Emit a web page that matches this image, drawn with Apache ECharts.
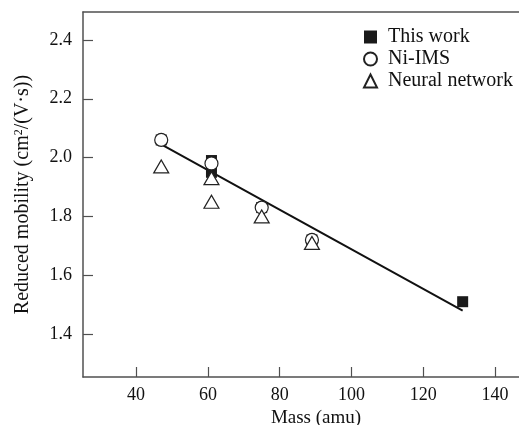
<!DOCTYPE html>
<html>
<head>
<meta charset="utf-8">
<script src="https://cdn.jsdelivr.net/npm/echarts@6/dist/echarts.min.js"></script>
<style>
  html, body { margin: 0; padding: 0; background: #fff; }
  #chart { width: 519px; height: 425px; }
</style>
</head>
<body>
<div id="chart"></div>
<script>
// values
let workMass = [47, 61, 61, 75, 89, 131]
let workMob = [2.06, 1.99, 1.95, 1.83, 1.72, 1.51]
let imsMass = [47, 61, 75, 89]
let imsMob = [2.06, 1.98, 1.83, 1.72]
let nnMass = [47, 61, 61, 75, 89]
let nnMob = [1.97, 1.93, 1.85, 1.80, 1.71]
let fitMass = [47, 131]
let fitMob = [2.045, 1.48]
let xTicks = [40, 60, 80, 100, 120, 140]
let yTicks = [1.4, 1.6, 1.8, 2.0, 2.2, 2.4]

function pairs (xs, ys) {
  return xs.map((x, i) => [x, ys[i]])
}

let font = 'Liberation Serif'
let axisColor = '#505050'
let textColor = '#111'
let myChart = echarts.init(document.getElementById('chart'))
myChart.setOption({
  animation: false,
  grid: {
    show: false,
    left: 83,
    top: 12,
    bottom: 48,
    right: 0,
    outerBoundsMode: 'none'
  },
  legend: {
    orient: 'vertical',
    left: 358,
    top: 22,
    itemGap: 2,
    itemWidth: 13,
    itemHeight: 13,
    textStyle: {
      fontFamily: font,
      fontSize: 20,
      color: textColor,
      padding: [0, 0, 0, 6]
    },
    data: ['This work', 'Ni-IMS', 'Neural network']
  },
  xAxis: [
    {
      type: 'value',
      min: 25.2,
      max: 146.7,
      splitLine: {show: false},
      name: 'Mass (amu)',
      nameLocation: 'middle',
      nameGap: 27,
      nameTextStyle: {
        fontFamily: font,
        fontSize: 19,
        color: textColor,
        padding: [0, 0, 0, 30]
      },
      axisLine: {lineStyle: {color: axisColor, width: 1.5}},
      axisTick: {
        inside: true,
        length: 10,
        lineStyle: {color: axisColor, width: 1.2},
        customValues: xTicks
      },
      axisLabel: {
        fontFamily: font,
        fontSize: 18,
        color: textColor,
        margin: 9,
        customValues: xTicks
      }
    },
    {
      // top frame line only
      type: 'value',
      position: 'top',
      min: 25.2,
      max: 146.7,
      splitLine: {show: false},
      axisLine: {lineStyle: {color: axisColor, width: 1.5}},
      axisTick: {show: false},
      axisLabel: {show: false}
    }
  ],
  yAxis: {
    type: 'value',
    min: 1.254,
    max: 2.495,
    splitLine: {show: false},
    name: 'Reduced mobility (cm{sup|2}/(V·s))',
    nameLocation: 'middle',
    nameGap: 50,
    nameTextStyle: {
      fontFamily: font,
      fontSize: 20,
      color: textColor,
      rich: {
        sup: {
          fontFamily: font,
          fontSize: 12,
          color: textColor,
          verticalAlign: 'top',
          padding: [0, 0, 8, 0]
        }
      }
    },
    axisLine: {lineStyle: {color: axisColor, width: 1.5}},
    axisTick: {
      inside: true,
      length: 10,
      lineStyle: {color: axisColor, width: 1.2},
      customValues: yTicks
    },
    axisLabel: {
      fontFamily: font,
      fontSize: 18,
      color: textColor,
      margin: 11,
      formatter: v => v.toFixed(1),
      customValues: yTicks
    }
  },
  series: [
    {
      name: 'fit',
      type: 'line',
      data: pairs(fitMass, fitMob),
      symbol: 'none',
      lineStyle: {color: '#111', width: 2},
      z: 1
    },
    {
      name: 'This work',
      type: 'scatter',
      symbol: 'rect',
      symbolSize: 11,
      data: pairs(workMass, workMob),
      itemStyle: {color: '#1a1a1a', opacity: 1},
      z: 2
    },
    {
      name: 'Ni-IMS',
      type: 'scatter',
      symbol: 'circle',
      symbolSize: 13,
      data: pairs(imsMass, imsMob),
      itemStyle: {color: '#fff', borderColor: '#222', borderWidth: 1.2, opacity: 1},
      z: 3
    },
    {
      name: 'Neural network',
      type: 'scatter',
      symbol: 'triangle',
      symbolSize: [15, 13],
      data: pairs(nnMass, nnMob),
      itemStyle: {color: '#fff', borderColor: '#222', borderWidth: 1.2, opacity: 1},
      z: 4
    }
  ]
})
</script>
</body>
</html>
